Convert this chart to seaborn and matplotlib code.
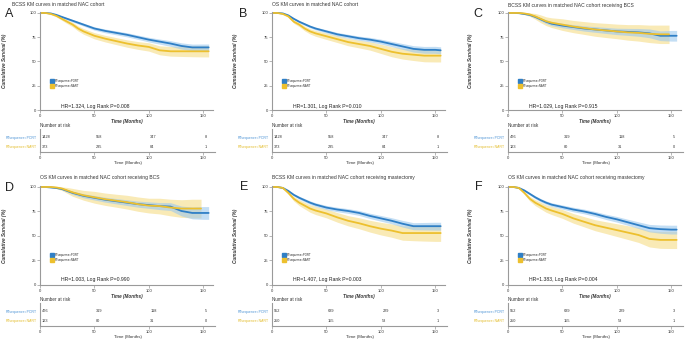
import numpy as np
import pandas as pd
import matplotlib
matplotlib.use("Agg")
import matplotlib.pyplot as plt
from matplotlib.lines import Line2D
import seaborn as sns

sns.set_theme(style="white")
plt.rcParams["font.family"] = ["Liberation Sans", "DejaVu Sans"]

# ---------------- data ----------------
months = [0, 5, 10, 15, 20, 25, 30, 35, 40, 50, 60, 70, 80, 90, 100, 110, 120, 130, 140, 150, 155]
months_short = [0, 5, 10, 15, 20, 25, 30, 35, 40, 50, 60, 70, 80, 90, 100, 110, 120, 130, 140, 145, 148]
risk_times = [0, 50, 100, 150]
groups = ["RTsequence=PORT", "RTsequence=NART"]

titles = [
    "BCSS KM curves in matched NAC cohort",
    "OS KM curves in matched NAC cohort",
    "BCSS KM curves in matched NAC cohort receiving BCS",
    "OS KM curves in matched NAC cohort receiving BCS",
    "BCSS KM curves in matched NAC cohort receiving mastectomy",
    "OS KM curves in matched NAC cohort receiving mastectomy",
]
letters = ["A", "B", "C", "D", "E", "F"]
hr_texts = [
    "HR=1.324, Log Rank P=0.008",
    "HR=1.301, Log Rank P=0.010",
    "HR=1.029, Log Rank P=0.915",
    "HR=1.003, Log Rank P=0.990",
    "HR=1.407, Log Rank P=0.003",
    "HR=1.383, Log Rank P=0.004",
]

# Panel A
surv_port_a = [100, 100, 99.5, 98, 96, 94, 92, 90, 88, 84, 81.5, 79.5, 77.5, 75, 72.5, 70.5, 68.5, 66, 64.5, 64.5, 64.5]
surv_nart_a = [100, 100, 99, 97, 94, 91, 88, 84, 81, 76.5, 73.5, 71, 68.5, 66.5, 65, 61.5, 60.5, 60.5, 60.5, 60.5, 60.5]
ci_port_a = [0, 0, 0.3, 0.6, 0.9, 1.1, 1.3, 1.4, 1.5, 1.7, 1.9, 2.0, 2.1, 2.2, 2.4, 2.6, 2.9, 3.2, 3.4, 3.5, 3.5]
ci_nart_a = [0, 0, 0.6, 1.0, 1.5, 2.0, 2.3, 2.6, 2.9, 3.2, 3.4, 3.6, 3.8, 4.0, 4.3, 4.6, 5.0, 5.3, 5.6, 5.8, 5.8]
# Panel B
surv_port_b = [100, 100, 99.5, 97.5, 94, 91, 88.5, 86, 84, 81, 78, 76, 74, 72.5, 70.5, 68, 65.5, 63, 62, 62, 61.5]
surv_nart_b = [100, 100, 99, 96.5, 91, 88, 84, 81, 79, 76, 73, 70, 68, 66, 63, 60, 58, 57, 56, 56, 56]
ci_port_b = [0, 0, 0.3, 0.6, 0.9, 1.1, 1.3, 1.4, 1.5, 1.7, 1.9, 2.0, 2.1, 2.3, 2.5, 2.7, 3.0, 3.3, 3.5, 3.6, 3.6]
ci_nart_b = [0, 0, 0.6, 1.0, 1.6, 2.1, 2.4, 2.7, 3.0, 3.3, 3.5, 3.8, 4.0, 4.3, 4.7, 5.1, 5.5, 6.0, 6.3, 6.5, 6.5]
# Panel C
surv_port_c = [100, 100, 99.8, 99, 98, 96, 93.5, 91, 89, 87, 85.5, 84, 83, 82, 81, 80.5, 80, 79, 76.5, 76.5, 76.5]
surv_nart_c = [100, 100, 100, 99.5, 98.5, 96.5, 94, 91.5, 90, 88, 86, 84.5, 83, 82, 81, 80, 79.5, 78.5, 78, 78, 78]
ci_port_c = [0, 0, 0.2, 0.5, 0.8, 1.2, 1.6, 1.9, 2.1, 2.3, 2.5, 2.7, 2.9, 3.1, 3.3, 3.6, 4.0, 4.5, 5.0, 5.5, 5.5]
ci_nart_c = [0, 0, 0.5, 1.2, 2.0, 3.0, 4.0, 4.5, 5.0, 6.0, 6.3, 6.6, 7.0, 7.3, 7.5, 8.0, 8.5, 9.0, 9.5, 9.5, 9.5]
# Panel D
surv_port_d = [100, 100, 99.5, 99, 98, 96, 94, 92.5, 91, 89, 87, 85.5, 84, 82.5, 81.5, 80.5, 80, 75.5, 73.5, 73.5, 73.5]
surv_nart_d = [100, 100, 100, 99.5, 98.5, 96.5, 94.5, 93, 91.5, 89.5, 87.5, 86, 84.5, 82.5, 81, 80.5, 79, 78, 78, 78, 78]
ci_port_d = [0, 0, 0.2, 0.5, 0.8, 1.2, 1.6, 1.9, 2.1, 2.3, 2.5, 2.7, 2.9, 3.1, 3.3, 3.6, 4.0, 5.0, 6.0, 6.5, 6.5]
ci_nart_d = [0, 0, 0.5, 1.2, 2.0, 3.0, 4.0, 4.5, 5.0, 6.0, 6.3, 6.6, 7.0, 7.3, 7.5, 8.0, 8.5, 9.0, 9.5, 9.5, 9.5]
# Panel E
surv_port_e = [100, 100, 99, 96, 92, 89, 86.5, 84, 82, 79, 77, 75.5, 73.5, 70.5, 68, 65.5, 62.5, 60, 60, 60, 60]
surv_nart_e = [100, 100, 99, 94, 88, 84, 81, 78, 76, 73, 69, 65.5, 63, 60, 57.5, 55.5, 53, 53, 53, 53, 53]
ci_port_e = [0, 0, 0.3, 0.8, 1.2, 1.5, 1.7, 1.8, 1.9, 2.1, 2.3, 2.4, 2.5, 2.7, 2.9, 3.1, 3.4, 3.6, 3.8, 4.0, 4.0]
ci_nart_e = [0, 0, 0.8, 1.5, 2.3, 3.0, 3.4, 3.8, 4.1, 4.5, 4.9, 5.2, 5.6, 6.0, 6.4, 6.8, 7.3, 7.8, 8.2, 8.5, 8.5]
# Panel F
surv_port_f = [100, 100, 99, 96.5, 93, 89.5, 86.5, 84, 82, 79.5, 77, 75, 72.5, 69.5, 67, 64, 61, 58, 57, 56.5, 56.5]
surv_nart_f = [100, 100, 99, 94, 88, 84, 81, 78, 76, 72.5, 68, 64.5, 61, 58.5, 56, 53.5, 51, 47, 46, 46, 46]
ci_port_f = [0, 0, 0.3, 0.8, 1.2, 1.5, 1.7, 1.8, 1.9, 2.1, 2.3, 2.4, 2.5, 2.7, 2.9, 3.1, 3.4, 3.8, 4.2, 4.5, 4.5]
ci_nart_f = [0, 0, 0.8, 1.5, 2.3, 3.0, 3.4, 3.8, 4.1, 4.5, 4.9, 5.2, 5.6, 6.0, 6.5, 7.0, 7.6, 8.2, 8.6, 8.8, 8.8]

# Numbers at risk
risk_port_ab = [1428, 958, 347, 8]
risk_nart_ab = [373, 235, 84, 1]
risk_port_cd = [476, 319, 118, 5]
risk_nart_cd = [123, 80, 31, 0]
risk_port_ef = [952, 639, 229, 3]
risk_nart_ef = [250, 155, 53, 1]

panels = [
    (surv_port_a, surv_nart_a, ci_port_a, ci_nart_a, months, risk_port_ab, risk_nart_ab),
    (surv_port_b, surv_nart_b, ci_port_b, ci_nart_b, months, risk_port_ab, risk_nart_ab),
    (surv_port_c, surv_nart_c, ci_port_c, ci_nart_c, months_short, risk_port_cd, risk_nart_cd),
    (surv_port_d, surv_nart_d, ci_port_d, ci_nart_d, months_short, risk_port_cd, risk_nart_cd),
    (surv_port_e, surv_nart_e, ci_port_e, ci_nart_e, months, risk_port_ef, risk_nart_ef),
    (surv_port_f, surv_nart_f, ci_port_f, ci_nart_f, months, risk_port_ef, risk_nart_ef),
]

# ---------------- style ----------------
BLUE = "#2F7FC6"
YELLOW = "#EDC02E"
BLUE_BAND = "#9CC8EE"
YELLOW_BAND = "#F5DC86"
BLUE_TXT = "#4F95D6"
YELLOW_TXT = "#E3BC2A"
SPINE = "#9A9A9A"

W, H = 685, 340
fig = plt.figure(figsize=(W / 100, H / 100), dpi=100)


def rect(x0, y_top, x1, y_bot):
    return [x0 / W, 1 - y_bot / H, (x1 - x0) / W, (y_bot - y_top) / H]


col_left = [40, 272, 508]
col_width = 173
main_rows = [(12, 110), (186, 285)]
tab_rows = [(129, 152), (303, 326)]
title_pos = [(12, 4), (272, 4), (508, 5), (40, 177), (272, 178), (508, 177)]
letter_pos = [(9, 14), (243, 14), (478, 14), (9, 188), (244, 187), (479, 187)]
ylabel_x = [5, 235, 470]
hr_y = [4, 6]


def style_axis(ax):
    for s in ["top", "right"]:
        ax.spines[s].set_visible(False)
    for s in ["left", "bottom"]:
        ax.spines[s].set_color(SPINE)
        ax.spines[s].set_linewidth(0.8)
    ax.tick_params(axis="both", which="major", length=2, width=0.5, color=SPINE,
                   labelsize=3, pad=0.8, labelcolor="#333333", left=True, bottom=True)
    ax.grid(False)


for i, (sp, sn, cp, cn, t_nart, rp, rn) in enumerate(panels):
    r, c = divmod(i, 3)
    x0 = col_left[c]
    x1 = x0 + col_width
    top, bot = main_rows[r]
    ax = fig.add_axes(rect(x0, top, x1, bot))
    ax.set_facecolor("white")

    sp_a = np.array(sp, float)
    sn_a = np.array(sn, float)
    cp_a = np.array(cp, float)
    cn_a = np.array(cn, float)

    ax.fill_between(t_nart, np.clip(sn_a - cn_a, 0, 100), np.clip(sn_a + cn_a, 0, 100),
                    color=YELLOW_BAND, alpha=0.6, lw=0)
    ax.fill_between(months, np.clip(sp_a - cp_a, 0, 100), np.clip(sp_a + cp_a, 0, 100),
                    color=BLUE_BAND, alpha=0.6, lw=0)

    df = pd.concat([
        pd.DataFrame({"month": months, "survival": sp, "group": groups[0]}),
        pd.DataFrame({"month": t_nart, "survival": sn, "group": groups[1]}),
    ], ignore_index=True)
    sns.lineplot(data=df, x="month", y="survival", hue="group", hue_order=groups,
                 palette={groups[0]: BLUE, groups[1]: YELLOW}, estimator=None,
                 lw=1.3, legend=False, ax=ax, sort=True)

    ax.set_xlim(0, 159)
    ax.set_ylim(0, 101)
    ax.set_xticks(risk_times)
    ax.set_yticks([0, 25, 50, 75, 100])
    style_axis(ax)
    ax.set_xlabel("Time (Months)", fontsize=3.3, fontweight="bold", style="italic",
                  labelpad=1, color="#333333")
    ax.set_ylabel("")

    handles = [Line2D([0], [0], color=BLUE, lw=1, marker="s", markersize=2.2),
               Line2D([0], [0], color=YELLOW, lw=1, marker="s", markersize=2.2)]
    ax.legend(handles, groups, loc="center left", bbox_to_anchor=(0.05, 0.275),
              frameon=False, fontsize=2.0, handlelength=1.2, handletextpad=0.4,
              labelspacing=0.35, borderpad=0.2)

    ax.text(19, hr_y[r], hr_texts[i], fontsize=3.7, ha="left", va="center", color="#222222")

    # labels and titles in figure pixels
    tx, ty = title_pos[i]
    fig.text(tx / W, 1 - ty / H, titles[i], fontsize=3.6, ha="left", va="center", color="#333333")
    lx, ly = letter_pos[i]
    fig.text(lx / W, 1 - ly / H, letters[i], fontsize=9, ha="center", va="center", color="#222222")
    fig.text(ylabel_x[c] / W, 1 - ((top + bot) / 2) / H, "Cumulative Survival (%)",
             fontsize=3.4, fontweight="bold", style="italic", rotation=90,
             ha="center", va="center", color="#333333")

    # risk table
    ttop, tbot = tab_rows[r]
    tax = fig.add_axes(rect(x0, ttop, x1 + 2, tbot))
    tax.set_facecolor("white")
    tax.set_xlim(0, 161)
    tax.set_ylim(0, 23)
    style_axis(tax)
    tax.set_xticks(risk_times)
    tax.set_yticks([15, 5.5])
    tax.set_yticklabels(groups, fontsize=2.5)
    tax.tick_params(axis="y", length=0, pad=2.5)
    for lab, col in zip(tax.get_yticklabels(), [BLUE_TXT, YELLOW_TXT]):
        lab.set_color(col)
    for tt, n in zip(risk_times, rp):
        tax.text(tt + 1.5, 15, str(n), fontsize=2.8, ha="left", va="center", color="#333333")
    for tt, n in zip(risk_times, rn):
        tax.text(tt + 1.5, 5.5, str(n), fontsize=2.8, ha="left", va="center", color="#333333")
    tax.text(0, 1.06, "Number at risk", transform=tax.transAxes, fontsize=3.3,
             ha="left", va="bottom", color="#333333")
    tax.set_xlabel("Time (Months)", fontsize=3.2, labelpad=0.5, color="#333333")

fig.savefig("out.png", dpi=100, facecolor="white")
